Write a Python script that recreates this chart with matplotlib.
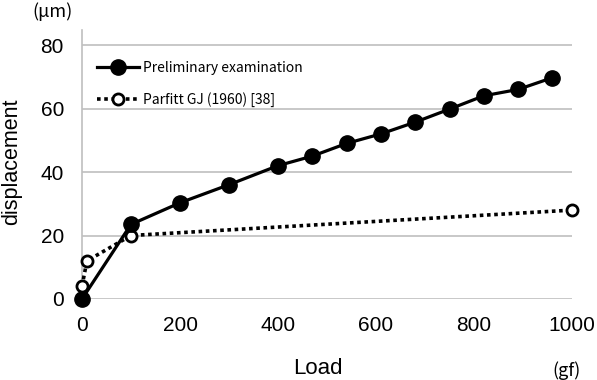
import matplotlib
matplotlib.use("Agg")
import matplotlib.pyplot as plt

pre_x = [0, 100, 200, 300, 400, 470, 540, 610, 680, 750, 820, 890, 960]
pre_y = [0, 23.5, 30.3, 36, 42, 45, 49, 52, 55.7, 59.8, 64, 66, 69.7]
par_x = [0, 10, 100, 1000]
par_y = [4, 12, 20, 28]
xticks = [0, 200, 400, 600, 800, 1000]
yticks = [0, 20, 40, 60, 80]

fig = plt.figure(figsize=(5.97, 3.80), dpi=100)
ax = fig.add_axes([82/597, 1-299/380, (572-82)/597, (299-30)/380])
ax.set_xlim(0, 1000)
ax.set_ylim(0, 80*(299-30)/(299-45))

ax.plot(par_x, par_y, linestyle=(0, (1, 1)), color='black', linewidth=2.6,
        marker='o', markersize=8, markerfacecolor='white', markeredgewidth=2,
        markeredgecolor='black', clip_on=False, zorder=3, label='Parfitt GJ (1960) [38]')
ax.plot(pre_x, pre_y, '-', color='black', linewidth=2.3, marker='o', markersize=11,
        clip_on=False, zorder=4, label='Preliminary examination')

ax.set_xticks(xticks)
ax.set_yticks(yticks)
ax.tick_params(length=0, labelsize=15)
ax.tick_params(axis='y', pad=13)
ax.tick_params(axis='x', pad=12)
for lab in ax.get_xticklabels() + ax.get_yticklabels():
    lab.set_family('Liberation Sans')
ax.grid(axis='y', color='#bfbfbf', linewidth=1.2)
ax.set_axisbelow(True)
for s in ['top', 'right', 'bottom']:
    ax.spines[s].set_visible(False)
ax.spines['left'].set_color('#bfbfbf')
ax.spines['left'].set_linewidth(1.2)

h, l = ax.get_legend_handles_labels()
leg = ax.legend(h[::-1], l[::-1], loc='upper left', bbox_to_anchor=(0.005, 0.93),
                frameon=False, handlelength=3.0, handletextpad=0.3,
                labelspacing=1.2, prop={'family': ['Noto Sans CJK JP', 'DejaVu Sans'], 'size': 10})

fig.text(12/597, 1-162/380, 'displacement', rotation=90, ha='center', va='center',
         fontsize=15.5, family='Liberation Sans')
fig.text(318/597, 1-369/380, 'Load', ha='center', va='center', fontsize=16,
         family='Liberation Sans')
fig.text(52/597, 1-12/380, '(μm)', ha='center', va='center', fontsize=13,
         family=['Noto Sans CJK JP', 'DejaVu Sans'])
fig.text(566/597, 1-371/380, '(gf)', ha='center', va='center', fontsize=13,
         family=['Noto Sans CJK JP', 'DejaVu Sans'])

fig.savefig('out.png', dpi=100)
